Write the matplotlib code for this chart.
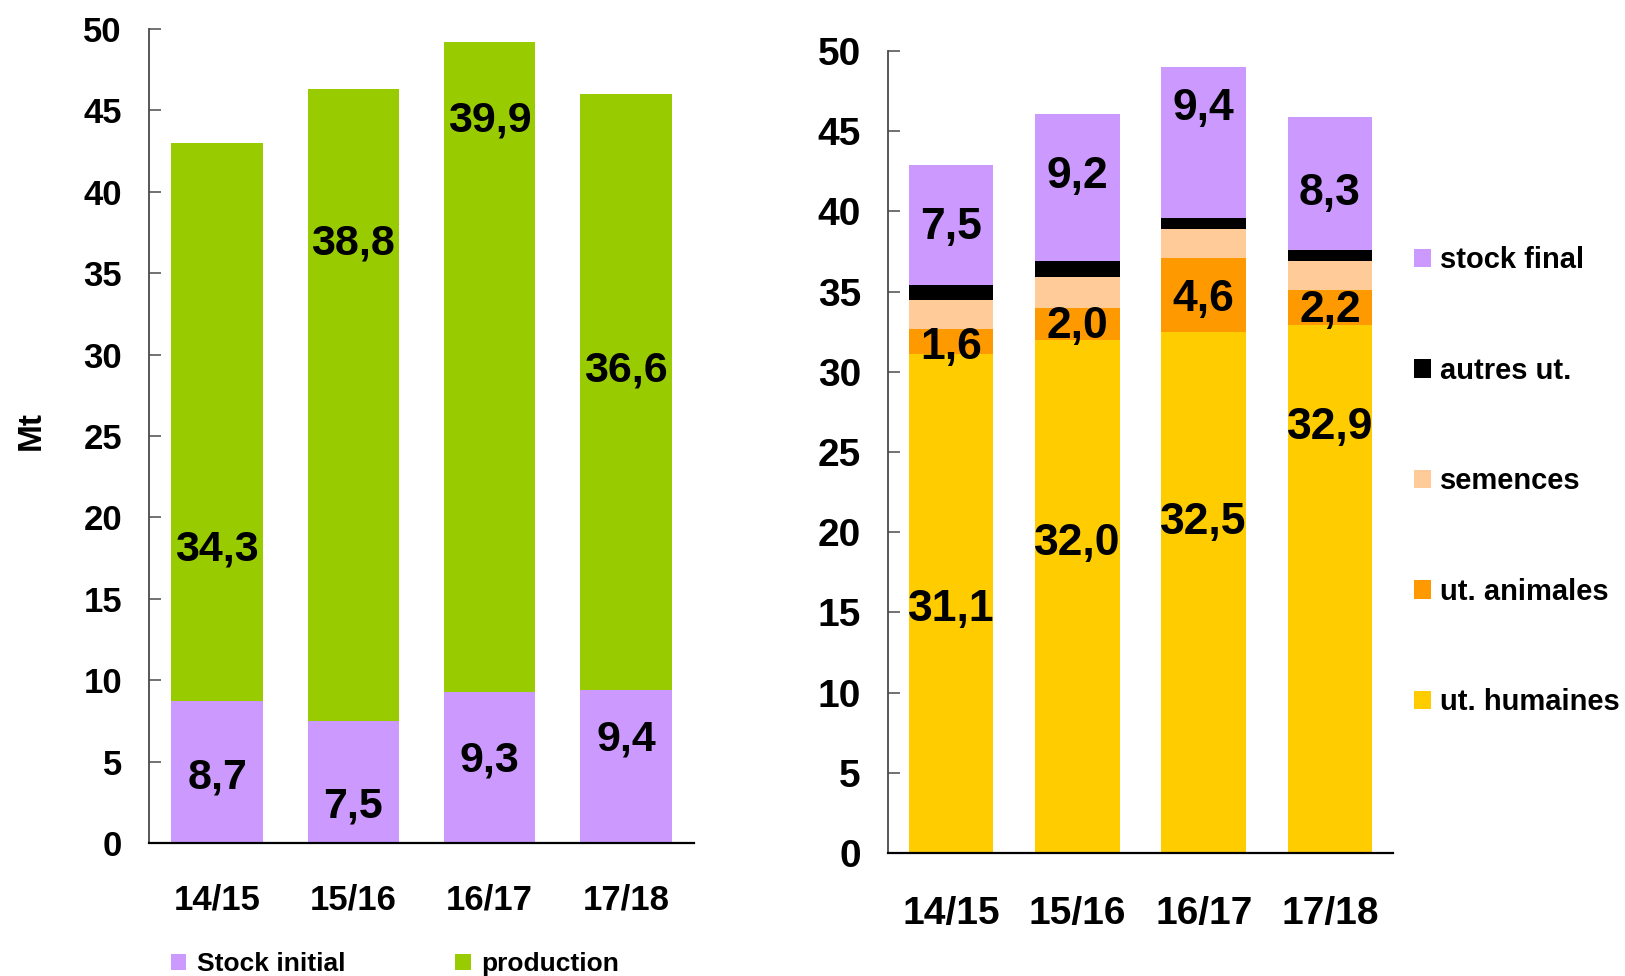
import matplotlib.pyplot as plt

plt.rcParams['font.family'] = ['Liberation Sans', 'DejaVu Sans']
plt.rcParams['font.weight'] = 'bold'

campagnes = ['14/15', '15/16', '16/17', '17/18']

# ressources
stock_initial = [8.7, 7.5, 9.3, 9.4]
production = [34.3, 38.8, 39.9, 36.6]

# emplois
ut_humaines = [31.1, 32.0, 32.5, 32.9]
ut_animales = [1.6, 2.0, 4.6, 2.2]
semences = [1.8, 1.9, 1.8, 1.8]
autres_ut = [0.9, 1.0, 0.7, 0.7]
stock_final = [7.5, 9.2, 9.4, 8.3]

# hauteur des étiquettes (placées à la main)
y_lab_stock_ini = [4.05, 2.25, 5.05, 6.35]
y_lab_prod = [18.05, 36.8, 44.4, 29.05]
y_lab_hum = [15.2, 19.3, 20.6, 26.5]
y_lab_anim = [31.5, 32.8, 34.5, 33.8]
y_lab_stock_fin = [39.0, 42.2, 46.4, 41.1]

VIOLET = '#CC99FF'
VERT = '#99CC00'
JAUNE = '#FFCC00'
ORANGE = '#FF9900'
SAUMON = '#FFCC99'

fmt = lambda v: f'{v:.1f}'.replace('.', ',')

fig = plt.figure(figsize=(16.25, 9.76), dpi=100)
ax1 = fig.add_axes([0.0917, 0.1363, 0.3354, 0.834])
ax2 = fig.add_axes([0.5465, 0.126, 0.3108, 0.8217])

x = range(len(campagnes))
w = 0.67

#-----ressources--------
ax1.bar(x, stock_initial, w, color=VIOLET, label='Stock initial')
ax1.bar(x, production, w, bottom=stock_initial, color=VERT, label='production')
for i in x:
    ax1.text(i, y_lab_stock_ini[i], fmt(stock_initial[i]), ha='center', va='center', fontsize=31)
    ax1.text(i, y_lab_prod[i], fmt(production[i]), ha='center', va='center', fontsize=31)

#-----emplois--------
bas = [0] * 4
couches = [(ut_humaines, JAUNE, 'ut. humaines'),
           (ut_animales, ORANGE, 'ut. animales'),
           (semences, SAUMON, 'semences'),
           (autres_ut, 'black', 'autres ut.'),
           (stock_final, VIOLET, 'stock final')]
for vals, col, lab in couches:
    ax2.bar(x, vals, w, bottom=bas, color=col, label=lab)
    bas = [b + v for b, v in zip(bas, vals)]
for i in x:
    ax2.text(i, y_lab_hum[i], fmt(ut_humaines[i]), ha='center', va='center', fontsize=32)
    ax2.text(i, y_lab_anim[i], fmt(ut_animales[i]), ha='center', va='center', fontsize=32)
    ax2.text(i, y_lab_stock_fin[i], fmt(stock_final[i]), ha='center', va='center', fontsize=32)

for ax, fs_y, fs_x, padx in [(ax1, 25, 25, 29), (ax2, 28, 28, 31)]:
    ax.set_xlim(-0.5, 3.5)
    ax.set_ylim(0, 50)
    ax.set_yticks(range(0, 51, 5))
    ax.set_xticks(list(x))
    ax.set_xticklabels(campagnes)
    ax.spines['top'].set_visible(False)
    ax.spines['right'].set_visible(False)
    ax.spines['left'].set_color('#4a4a4a')
    ax.spines['left'].set_linewidth(1.3)
    ax.spines['bottom'].set_color('black')
    ax.spines['bottom'].set_linewidth(1.6)
    ax.tick_params(axis='y', direction='in', length=8.5, width=1.1, color='#4a4a4a',
                   labelsize=fs_y, pad=19.5)
    ax.tick_params(axis='x', length=0, labelsize=fs_x, pad=padx)

fig.text(0.019, 0.559, 'Mt', rotation=90, ha='center', va='center', fontsize=24)

# légendes
h1, l1 = ax1.get_legend_handles_labels()
fig.legend(h1, l1, loc='center left', bbox_to_anchor=(0.105, 0.012), ncol=2,
           frameon=False, fontsize=19, handlelength=0.6, handleheight=0.6,
           handletextpad=0.4, columnspacing=4.15, borderpad=0, borderaxespad=0)

h2, l2 = ax2.get_legend_handles_labels()
fig.legend(h2[::-1], l2[::-1], loc='center left', bbox_to_anchor=(0.870, 0.507),
           frameon=False, fontsize=21, handlelength=0.6, handleheight=0.6,
           handletextpad=0.3, labelspacing=2.83, borderpad=0, borderaxespad=0)

fig.savefig('out.png', dpi=100)
